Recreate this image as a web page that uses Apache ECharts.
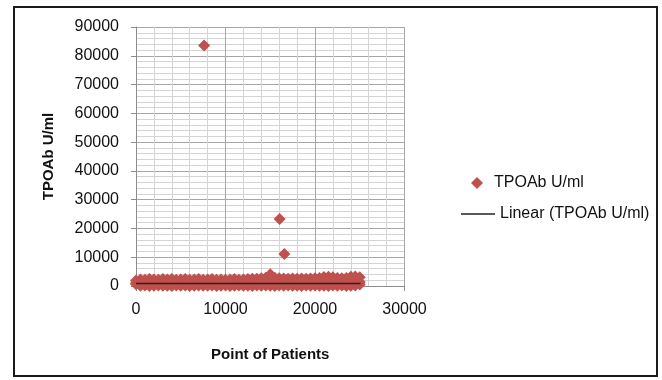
<!DOCTYPE html>
<html>
<head>
<meta charset="utf-8">
<script src="https://cdn.jsdelivr.net/npm/echarts@6/dist/echarts.min.js"></script>
<style>
html,body{margin:0;padding:0;background:#fff;}
#chart{width:662px;height:380px;}
</style>
</head>
<body>
<div id="chart"></div>
<script>
// Dense band of patient values (read as envelope from the picture)
const bandX = [0,500,1000,1500,2000,2500,3000,3500,4000,4500,
  5000,5500,6000,6500,7000,7500,8000,8500,9000,9500,
  10000,10500,11000,11500,12000,12500,13000,13500,14000,14500,
  15000,15500,16000,16500,17000,17500,18000,18500,19000,19500,
  20000,20500,21000,21500,22000,22500,23000,23500,24000,24500,25000];
const bandUpper = [1900,2300,2200,2400,2300,2200,2400,2300,2400,2200,
  2300,2400,2200,2300,2400,2200,2300,2400,2200,2300,
  2200,2300,2400,2200,2300,2400,2500,2500,2700,2900,
  4100,2900,2700,2600,2500,2600,2500,2600,2500,2600,
  2700,2800,3100,3200,3000,2800,2700,2800,3200,3300,3000];
const bandMid = [1000,1200,1100,1200,1100,1200,1100,1200,1100,1200,
  1100,1200,1100,1200,1100,1200,1100,1200,1100,1200,
  1100,1200,1100,1200,1100,1200,1100,1200,1300,1400,
  2000,1400,1300,1200,1100,1200,1100,1200,1100,1200,
  1300,1400,1500,1500,1400,1300,1200,1300,1500,1600,1400];
const bandLower = [600,100,200,0,100,200,50,100,0,150,
  100,200,0,100,150,50,100,200,0,100,
  150,0,100,200,50,100,0,150,100,200,
  100,0,150,100,200,50,100,0,150,100,
  200,50,100,0,150,100,200,0,100,150,500];
// Outliers
const outlierX = [7610, 16050, 16580];
const outlierY = [83600, 23300, 11100];
// Linear trendline endpoints
const trendX = [0, 25100];
const trendY = [830, 870];

const xTicks = {min: 0, max: 30000, interval: 10000};
const yTicks = {min: 0, max: 90000, interval: 10000};

const scatterData = [];
bandX.forEach((x, i) => {
  scatterData.push([x, bandLower[i]]);
  scatterData.push([x, bandMid[i]]);
  scatterData.push([x, bandUpper[i]]);
});
outlierX.forEach((x, i) => scatterData.push([x, outlierY[i]]));
const trendData = trendX.map((x, i) => [x, trendY[i]]);

const FONT = '"Liberation Sans", Arial, sans-serif';
const plain = v => String(v);
const chart = echarts.init(document.getElementById('chart'), null, {renderer: 'canvas'});
chart.setOption({
  animation: false,
  backgroundColor: '#ffffff',
  graphic: [{
    type: 'rect', shape: {x: 14, y: 7, width: 643, height: 369},
    style: {fill: 'none', stroke: '#1a1a1a', lineWidth: 2}, z: 100
  }],
  grid: {left: 136, right: 257.5, top: 27, bottom: 94, containLabel: false},
  legend: [
    {
      orient: 'vertical', left: 466, top: 170,
      itemWidth: 12, itemHeight: 12,
      textStyle: {fontFamily: FONT, fontSize: 16, color: '#111', padding: [0, 0, 0, 6]},
      data: [{name: 'TPOAb U/ml', icon: 'diamond'}]
    },
    {
      orient: 'vertical', left: 456, top: 201,
      itemWidth: 34, itemHeight: 1.5,
      textStyle: {fontFamily: FONT, fontSize: 16, color: '#111'},
      data: [{name: 'Linear (TPOAb U/ml)', icon: 'rect'}]
    }
  ],
  xAxis: {
    type: 'value', min: xTicks.min, max: xTicks.max, interval: xTicks.interval,
    name: 'Point of Patients', nameLocation: 'middle', nameGap: 61,
    nameTextStyle: {fontFamily: FONT, fontSize: 15, fontWeight: 'bold', color: '#111'},
    axisLine: {show: true, lineStyle: {color: '#8c8c8c', width: 1}},
    axisTick: {show: true, length: 5, lineStyle: {color: '#8c8c8c'}},
    axisLabel: {fontFamily: FONT, fontSize: 16, color: '#111', margin: 16, formatter: plain},
    splitLine: {show: true, lineStyle: {color: '#a6a6a6', width: 1}},
    minorTick: {show: false, splitNumber: 5},
    minorSplitLine: {show: true, lineStyle: {color: '#d4d4d4', width: 1}}
  },
  yAxis: {
    type: 'value', min: yTicks.min, max: yTicks.max, interval: yTicks.interval,
    name: 'TPOAb U/ml', nameLocation: 'middle', nameGap: 80,
    nameTextStyle: {fontFamily: FONT, fontSize: 15, fontWeight: 'bold', color: '#111'},
    axisLine: {show: true, lineStyle: {color: '#8c8c8c', width: 1}},
    axisTick: {show: true, length: 5, lineStyle: {color: '#8c8c8c'}},
    axisLabel: {fontFamily: FONT, fontSize: 16, color: '#111', margin: 17, formatter: plain},
    splitLine: {show: true, lineStyle: {color: '#a6a6a6', width: 1}},
    minorTick: {show: false, splitNumber: 5},
    minorSplitLine: {show: true, lineStyle: {color: '#d4d4d4', width: 1}}
  },
  series: [
    {
      name: 'TPOAb U/ml', type: 'scatter', symbol: 'diamond', symbolSize: 12,
      clip: false,
      itemStyle: {color: '#c0504d', opacity: 1}, data: scatterData, z: 2
    },
    {
      name: 'Linear (TPOAb U/ml)', type: 'line', symbol: 'none',
      lineStyle: {color: '#222', width: 1.5}, itemStyle: {color: '#222'},
      data: trendData, z: 3
    }
  ]
});
</script>
</body>
</html>
